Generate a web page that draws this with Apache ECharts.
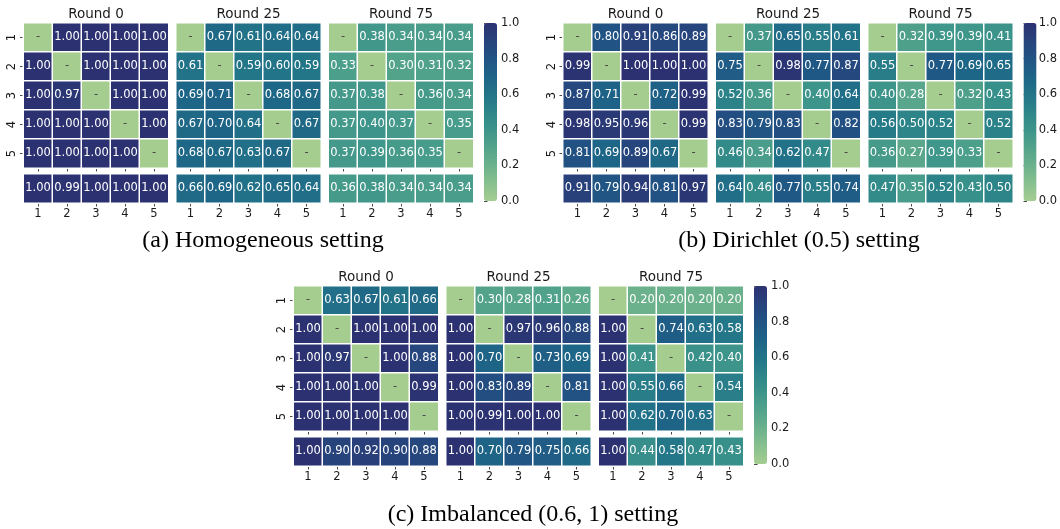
<!DOCTYPE html>
<html>
<head>
<meta charset="utf-8">
<script src="https://cdn.jsdelivr.net/npm/echarts@6/dist/echarts.min.js"></script>
<style>html,body{margin:0;padding:0;background:#fff;}#c{width:1060px;height:529px;}</style>
</head>
<body>
<div id="c"></div>
<script>
// ---- data ----
const clients = ['1', '2', '3', '4', '5'];
const rounds = ['Round 0', 'Round 25', 'Round 75'];
const captions = ['(a) Homogeneous setting', '(b) Dirichlet (0.5) setting', '(c) Imbalanced (0.6, 1) setting'];
const colorbarTicks = [0, 0.2, 0.4, 0.6, 0.8, 1.0];

const homoR0 = [[null,1.00,1.00,1.00,1.00],[1.00,null,1.00,1.00,1.00],[1.00,0.97,null,1.00,1.00],[1.00,1.00,1.00,null,1.00],[1.00,1.00,1.00,1.00,null]];
const homoR0Avg = [1.00,0.99,1.00,1.00,1.00];
const homoR25 = [[null,0.67,0.61,0.64,0.64],[0.61,null,0.59,0.60,0.59],[0.69,0.71,null,0.68,0.67],[0.67,0.70,0.64,null,0.67],[0.68,0.67,0.63,0.67,null]];
const homoR25Avg = [0.66,0.69,0.62,0.65,0.64];
const homoR75 = [[null,0.38,0.34,0.34,0.34],[0.33,null,0.30,0.31,0.32],[0.37,0.38,null,0.36,0.34],[0.37,0.40,0.37,null,0.35],[0.37,0.39,0.36,0.35,null]];
const homoR75Avg = [0.36,0.38,0.34,0.34,0.34];

const dirR0 = [[null,0.80,0.91,0.86,0.89],[0.99,null,1.00,1.00,1.00],[0.87,0.71,null,0.72,0.99],[0.98,0.95,0.96,null,0.99],[0.81,0.69,0.89,0.67,null]];
const dirR0Avg = [0.91,0.79,0.94,0.81,0.97];
const dirR25 = [[null,0.37,0.65,0.55,0.61],[0.75,null,0.98,0.77,0.87],[0.52,0.36,null,0.40,0.64],[0.83,0.79,0.83,null,0.82],[0.46,0.34,0.62,0.47,null]];
const dirR25Avg = [0.64,0.46,0.77,0.55,0.74];
const dirR75 = [[null,0.32,0.39,0.39,0.41],[0.55,null,0.77,0.69,0.65],[0.40,0.28,null,0.32,0.43],[0.56,0.50,0.52,null,0.52],[0.36,0.27,0.39,0.33,null]];
const dirR75Avg = [0.47,0.35,0.52,0.43,0.50];

const imbR0 = [[null,0.63,0.67,0.61,0.66],[1.00,null,1.00,1.00,1.00],[1.00,0.97,null,1.00,0.88],[1.00,1.00,1.00,null,0.99],[1.00,1.00,1.00,1.00,null]];
const imbR0Avg = [1.00,0.90,0.92,0.90,0.88];
const imbR25 = [[null,0.30,0.28,0.31,0.26],[1.00,null,0.97,0.96,0.88],[1.00,0.70,null,0.73,0.69],[1.00,0.83,0.89,null,0.81],[1.00,0.99,1.00,1.00,null]];
const imbR25Avg = [1.00,0.70,0.79,0.75,0.66];
const imbR75 = [[null,0.20,0.20,0.20,0.20],[1.00,null,0.74,0.63,0.58],[1.00,0.41,null,0.42,0.40],[1.00,0.55,0.66,null,0.54],[1.00,0.62,0.70,0.63,null]];
const imbR75Avg = [1.00,0.44,0.58,0.47,0.43];

// ---- styling / layout ----
const crest = ['#a5cd90','#87c08f','#6bb18c','#53a38b','#3d948a','#2d8589','#227488','#1e6487','#215384','#27437c','#2c3172'];
const panels = [
  {mats:[homoR0,homoR25,homoR75], avgs:[homoR0Avg,homoR25Avg,homoR75Avg], ox:23.5, oy:23, cap:[263,241]},
  {mats:[dirR0,dirR25,dirR75], avgs:[dirR0Avg,dirR25Avg,dirR75Avg], ox:563, oy:23, cap:[799,241]},
  {mats:[imbR0,imbR25,imbR75], avgs:[imbR0Avg,imbR25Avg,imbR75Avg], ox:293.5, oy:286, cap:[533,515]}
];
const roundDx = [0, 152.5, 305];
const W = 145, CELL = 29;
const SANS = 'DejaVu Sans';
const TXT = '#1a1a1a';

const grid = [], xAxis = [], yAxis = [], series = [], visualMap = [], graphic = [];

function heat(mat, gi) {
  const data = [];
  mat.forEach((row, yi) => row.forEach((v, xi) => {
    if (v === null) data.push({value:[xi, yi, 0], isDiag:true, label:{color:'#4a4a4a'}});
    else data.push({value:[xi, yi, v]});
  }));
  return {
    type:'heatmap', xAxisIndex:gi, yAxisIndex:gi, data:data,
    itemStyle:{borderColor:'#fff', borderWidth:1.5},
    label:{show:true, fontFamily:SANS, fontSize:11.5, color:'#fff',
      formatter: p => p.data.isDiag ? '-' : p.value[2].toFixed(2)},
    emphasis:{disabled:true}, animation:false
  };
}

panels.forEach((P, pi) => {
  const seriesIdx = [];
  for (let r = 0; r < 3; r++) {
    const left = P.ox + roundDx[r];
    let gi = grid.length;
    grid.push({left:left, top:P.oy, width:W, height:W});
    xAxis.push({type:'category', gridIndex:gi, data:clients, axisLine:{show:false},
      axisTick:{show:true, alignWithLabel:true, length:3.5, lineStyle:{color:TXT, width:0.8}},
      axisLabel:{show:false}, splitLine:{show:false}});
    yAxis.push({type:'category', gridIndex:gi, data:clients, inverse:true, axisLine:{show:false},
      axisTick:{show:r===0, alignWithLabel:true, length:3.5, lineStyle:{color:TXT, width:0.8}},
      axisLabel:{show:r===0, rotate:90, margin:5, fontFamily:SANS, fontSize:11.5, color:TXT},
      splitLine:{show:false}});
    seriesIdx.push(series.length);
    series.push(heat(P.mats[r], gi));
    gi = grid.length;
    grid.push({left:left, top:P.oy + 151, width:W, height:CELL});
    xAxis.push({type:'category', gridIndex:gi, data:clients, axisLine:{show:false},
      axisTick:{show:true, alignWithLabel:true, length:3.5, lineStyle:{color:TXT, width:0.8}},
      axisLabel:{show:true, margin:5, fontFamily:SANS, fontSize:11.5, color:TXT}, splitLine:{show:false}});
    yAxis.push({type:'category', gridIndex:gi, data:['avg'], show:false});
    seriesIdx.push(series.length);
    series.push(heat([P.avgs[r]], gi));
    graphic.push({type:'text', x:left + W/2, y:P.oy - 8.5,
      style:{text:rounds[r], fontFamily:SANS, fontSize:13.5, fill:TXT, textAlign:'center', textVerticalAlign:'middle'}});
  }
  const cbLeft = P.ox + 460.5;
  const gi = grid.length;
  grid.push({left:cbLeft, top:P.oy, width:13, height:178});
  xAxis.push({type:'value', gridIndex:gi, show:false});
  yAxis.push({type:'value', gridIndex:gi, position:'right', min:0, max:1, interval:0.2,
    axisLine:{show:false}, splitLine:{show:false},
    axisTick:{show:true, length:3.5, lineStyle:{color:TXT, width:0.8}},
    axisLabel:{margin:4, fontFamily:SANS, fontSize:11.5, color:TXT, formatter:v => v.toFixed(1)}});
  visualMap.push({type:'continuous', min:colorbarTicks[0], max:colorbarTicks[colorbarTicks.length-1],
    seriesIndex:seriesIdx, dimension:2, calculable:false, hoverLink:false,
    left:cbLeft, top:P.oy, itemWidth:13, itemHeight:178, padding:0, text:null,
    inRange:{color:crest}});
  graphic.push({type:'text', x:P.cap[0], y:P.cap[1],
    style:{text:captions[pi], fontFamily:'Liberation Serif', fontSize:24, fill:'#000', textAlign:'center', textVerticalAlign:'middle'}});
});

const chart = echarts.init(document.getElementById('c'), null, {renderer:'canvas'});
chart.setOption({animation:false, grid, xAxis, yAxis, series, visualMap, graphic});
</script>
</body>
</html>
